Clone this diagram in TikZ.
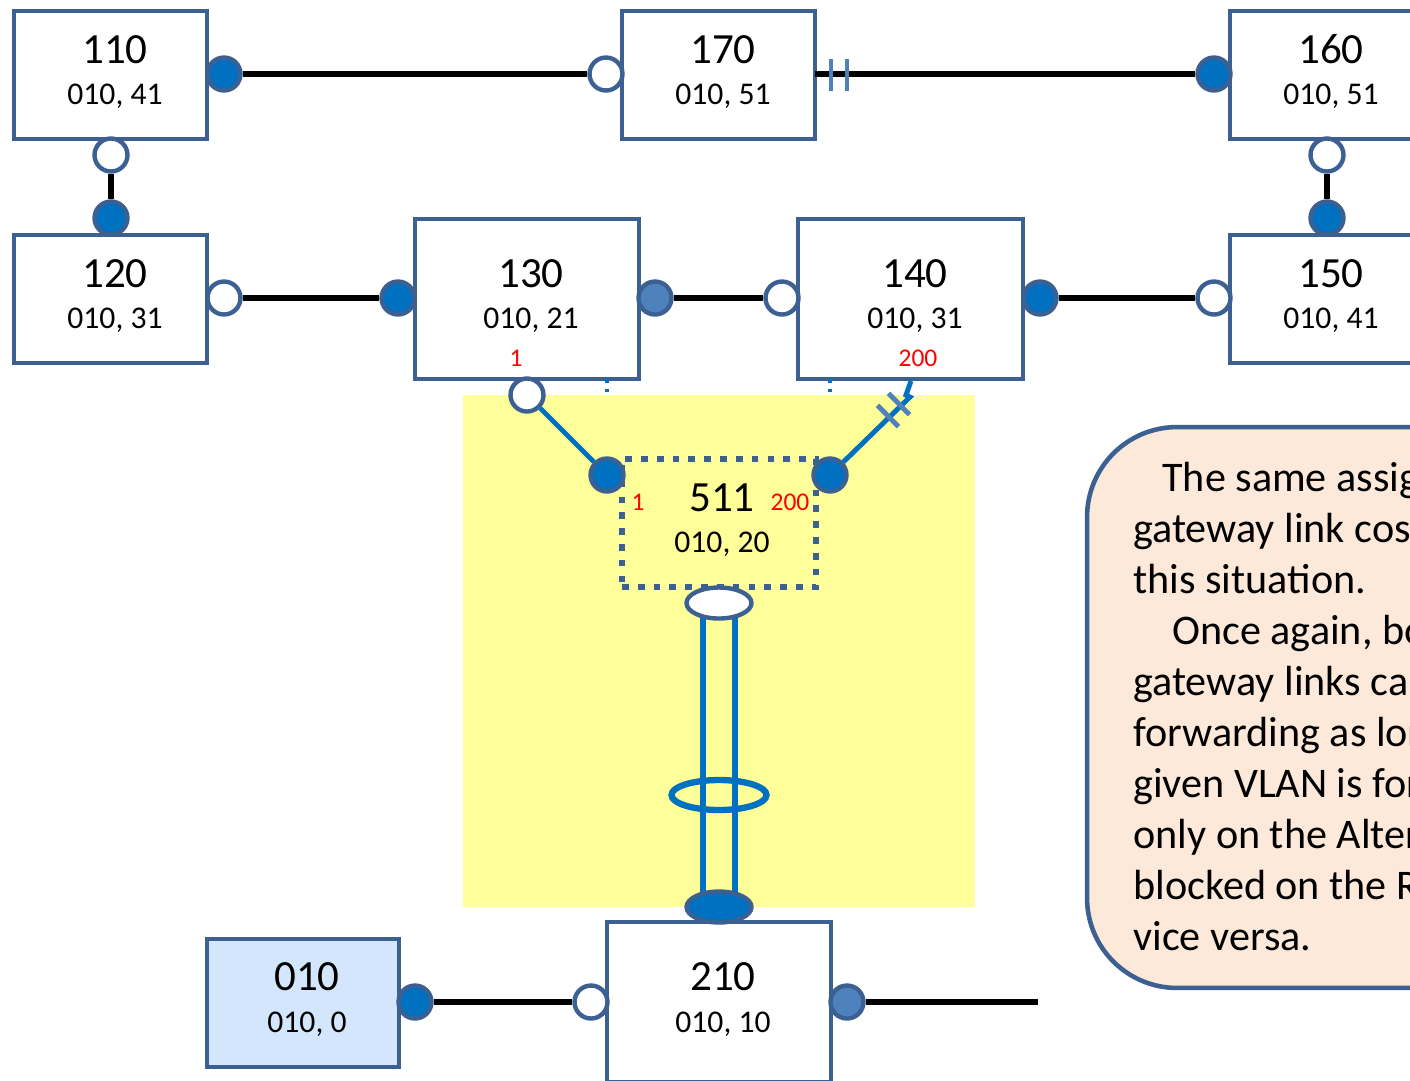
\documentclass[tikz,border=0pt]{standalone}
\usepackage{fontspec}
\setmainfont{Carlito}
\usetikzlibrary{shapes.geometric}

\definecolor{frame}{RGB}{60,96,145}
\definecolor{portblue}{RGB}{0,112,192}
\definecolor{portlight}{RGB}{79,129,189}
\definecolor{lan}{RGB}{255,255,153}
\definecolor{note}{RGB}{253,233,217}
\definecolor{rootfill}{RGB}{212,230,251}

\tikzset{
  bridge/.style={draw=frame, line width=2.6pt, fill=white, inner sep=0pt, outer sep=0pt},
  portnode/.style={circle, draw=frame, line width=2.5pt, minimum size=0.66cm, inner sep=0pt},
  fwd/.style={portnode, fill=portblue},
  fwdlight/.style={portnode, fill=portlight},
  blk/.style={portnode, fill=white},
  wire/.style={line width=3.4pt, black},
  bluewire/.style={line width=2.8pt, portblue},
  cutmark/.style={line width=2.8pt, portlight},
  idtext/.style={font=\fontsize{24.5}{29}\selectfont, anchor=base, inner sep=0pt},
  pritext/.style={font=\fontsize{18}{22}\selectfont, anchor=base, inner sep=0pt},
  costtext/.style={font=\fontsize{14.5}{17}\selectfont, text=red, anchor=base, inner sep=0pt},
  notetext/.style={font=\fontsize{24}{29}\selectfont, anchor=base west, inner sep=0pt},
}

\begin{document}
\begin{tikzpicture}[x=0.02cm, y=-0.02cm]
\useasboundingbox (0,0) rectangle (1410,1080);
\clip (0,0) rectangle (1410,1080);

% bridges of the upper ring
\node[bridge, minimum width=3.86cm, minimum height=2.56cm] (n110) at (110.5,75) {};
\node[bridge, minimum width=3.86cm, minimum height=2.56cm] (n170) at (718.5,75) {};
\node[bridge, minimum width=3.86cm, minimum height=2.56cm] (n160) at (1326.5,75) {};
\node[bridge, minimum width=3.86cm, minimum height=2.56cm] (n120) at (110.5,299) {};
\node[bridge, minimum width=4.48cm, minimum height=3.2cm] (n130) at (527,299) {};
\node[bridge, minimum width=4.5cm, minimum height=3.2cm] (n140) at (910.5,299) {};
\node[bridge, minimum width=3.86cm, minimum height=2.56cm] (n150) at (1326.5,299) {};

% gateway port positions of the virtual bridge
\coordinate (a511l) at (607,475);
\coordinate (a511r) at (830,475);

% hidden gateway links, only their ends peek out
\draw[bluewire, dash pattern=on 2pt off 3.6pt] (n130.south -| a511l) -- (a511l);
\draw[bluewire, dash pattern=on 2pt off 3.6pt] (n140.south -| a511r) -- (a511r);

% LAN area
\node[fill=lan, minimum width=10.24cm, minimum height=10.24cm, inner sep=0pt] (vlan) at (719,651) {};

% virtual bridge 511
\node[draw=frame, line width=3.8pt, dash pattern=on 3.8pt off 5.2pt, minimum width=3.88cm, minimum height=2.56cm, inner sep=0pt] (n511) at (719,523) {};

% lower bridges
\node[bridge, fill=rootfill, minimum width=3.84cm, minimum height=2.56cm] (n010) at (303,1003) {};
\node[bridge, minimum width=4.48cm, minimum height=3.2cm] (n210) at (719,1002) {};

% explanation
\node[draw=frame, line width=2.6pt, fill=note, rounded corners=1.8cm, minimum width=10.26cm, minimum height=11.22cm, inner sep=0pt] (expl) at (1343.5,707.5) {};

% ports
\node[fwd] (p110r) at (224,74) {};
\node[blk] (p170l) at (606,74) {};
\node[fwd] (p160l) at (1214,74) {};
\node[blk] (p110b) at (111,155) {};
\node[fwd] (p120t) at (111,218) {};
\node[blk] (p160b) at (1327,155) {};
\node[fwd] (p150t) at (1327,218) {};
\node[blk] (p120r) at (224,298) {};
\node[fwd] (p130l) at (398,298) {};
\node[fwdlight] (p130r) at (655,298) {};
\node[blk] (p140l) at (782,298) {};
\node[fwd] (p140r) at (1040,298) {};
\node[blk] (p150l) at (1214,298) {};
\node[blk] (p130d) at (527,395) {};
\node[fwd] (p511l) at (a511l) {};
\node[fwd] (p511r) at (a511r) {};
\node[fwd] (p010r) at (415,1002) {};
\node[blk] (p210l) at (591,1002) {};
\node[fwdlight] (p210r) at (847,1002) {};
\coordinate (stub210) at (1038,1002);

% ring links
\draw[wire] (p110r) -- (p170l);
\draw[wire] (n170.east |- p160l) -- (p160l);
\draw[wire] (p110b) -- (p120t);
\draw[wire] (p160b) -- (p150t);
\draw[wire] (p120r) -- (p130l);
\draw[wire] (p130r) -- (p140l);
\draw[wire] (p140r) -- (p150l);
\draw[wire] (p010r) -- (p210l);
\draw[wire] (p210r) -- (stub210);

% blocked mark on the 170-160 link
\draw[cutmark] (831,59) -- (831,91);
\draw[cutmark] (847,59) -- (847,91);

% gateway links
\draw[bluewire] (p130d) -- (p511l);
\coordinate (g140a) at (911,381);
\coordinate (g140b) at (906,395);
\coordinate (g140c) at (910,397);
\draw[bluewire] (g140a) -- (g140b) -- (g140c) -- (p511r);
\draw[cutmark] (877.5,405.3) -- (898.5,426.7);
\draw[cutmark] (888.5,393.3) -- (909.5,414.7);

% aggregated link from 511 down to 210
\coordinate (lagA) at (719,603);
\coordinate (lagB) at (719,907);
\draw[portblue, line width=3pt] ([xshift=-0.32cm]lagA) -- ([xshift=-0.32cm]lagB);
\draw[portblue, line width=3pt] ([xshift=0.32cm]lagA) -- ([xshift=0.32cm]lagB);
\node[ellipse, draw=frame, line width=2.5pt, fill=white, minimum width=1.3cm, minimum height=0.62cm, inner sep=0pt] (lagtop) at (lagA) {};
\node[ellipse, draw=portblue, line width=3.6pt, minimum width=1.9cm, minimum height=0.6cm, inner sep=0pt] (ring) at (719,795) {};
\node[ellipse, draw=frame, line width=2.5pt, fill=portblue, minimum width=1.3cm, minimum height=0.62cm, inner sep=0pt] (lagbot) at (lagB) {};

% bridge labels
\node[idtext] (t110) at (115,63) {110};
\node[pritext] (s110) at (115,104) {010, 41};
\node[idtext] (t170) at (723,63) {170};
\node[pritext] (s170) at (723,104) {010, 51};
\node[idtext] (t160) at (1331,63) {160};
\node[pritext] (s160) at (1331,104) {010, 51};
\node[idtext] (t120) at (115,287) {120};
\node[pritext] (s120) at (115,328) {010, 31};
\node[idtext] (t130) at (531,287) {130};
\node[pritext] (s130) at (531,328) {010, 21};
\node[costtext] (c130) at (516,366) {1};
\node[idtext] (t140) at (915,287) {140};
\node[pritext] (s140) at (915,328) {010, 31};
\node[costtext] (c140) at (918,366) {200};
\node[idtext] (t150) at (1331,287) {150};
\node[pritext] (s150) at (1331,328) {010, 41};
\node[idtext] (t511) at (722,511) {511};
\node[pritext] (s511) at (722,552) {010, 20};
\node[costtext] (c511l) at (638,510) {1};
\node[costtext] (c511r) at (790,510) {200};
\node[idtext] (t010) at (307,990) {010};
\node[pritext] (s010) at (307,1032) {010, 0};
\node[idtext] (t210) at (723,990) {210};
\node[pritext] (s210) at (723,1032) {010, 10};

% explanation text (the box runs on past the right edge)
\node[notetext] (l1) at (1162,491) {The same assignment of};
\node[notetext] (l2) at (1133,542) {gateway link costs works in};
\node[notetext] (l3) at (1133,593) {this situation.};
\node[notetext] (l4) at (1172,644) {Once again, both};
\node[notetext] (l5) at (1133,695) {gateway links can be};
\node[notetext] (l6) at (1133,746) {forwarding as long as a};
\node[notetext] (l7) at (1133,797) {given VLAN is forwarding};
\node[notetext] (l8) at (1133,848) {only on the Alternate and};
\node[notetext] (l9) at (1133,899) {blocked on the Root, or};
\node[notetext] (l10) at (1133,950) {vice versa.};
\end{tikzpicture}
\end{document}
